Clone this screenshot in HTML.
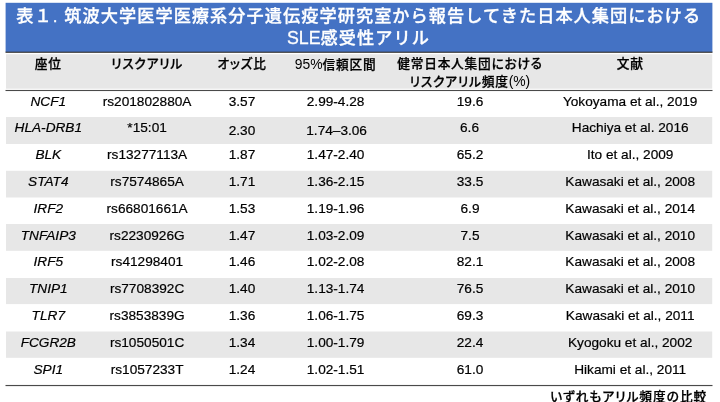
<!DOCTYPE html>
<html lang="ja"><head><meta charset="utf-8"><title>表1</title>
<style>
html,body{margin:0;padding:0;background:#fff;}
body{width:720px;height:402px;position:relative;overflow:hidden;font-family:"Liberation Sans","Noto Sans CJK JP",sans-serif;color:#000;}
.tt{position:absolute;color:#fff;font-weight:500;-webkit-text-stroke:0.3px #fff;font-size:17.2px;letter-spacing:1.04px;white-space:nowrap;line-height:22px;}
.t1{left:16.2px;top:5px;}
.t2{left:0;width:717px;text-align:center;top:27px;}
.t2 span{font-size:17.8px;letter-spacing:0}
.c{position:absolute;width:240px;margin-left:-120px;text-align:center;white-space:nowrap;font-size:13.65px;line-height:16px;-webkit-text-stroke:0.2px #000;}
.h{font-weight:500;-webkit-text-stroke:0.25px #000;font-size:12.7px;letter-spacing:0.78px;font-feature-settings:"palt";line-height:17px;}
.h b{font-weight:400;font-size:13.9px;-webkit-text-stroke:0;letter-spacing:0}
.i{font-style:italic;}
.note{position:absolute;right:12.8px;top:388.6px;font-weight:500;-webkit-text-stroke:0.25px #000;font-size:12.7px;letter-spacing:0.97px;line-height:17px;white-space:nowrap;font-feature-settings:"palt";}
</style></head><body>
<svg width="720" height="402" viewBox="0 0 720 402" style="position:absolute;left:0;top:0">
<rect x="5.6" y="2.8" width="706.8" height="49.2" fill="#4472C4"/>
<rect x="5.5" y="51.65" width="707" height="1.2" fill="#383838"/>
<rect x="6" y="54.25" width="706.2" height="34.45" fill="#E7E7E7"/>
<rect x="5.5" y="89.95" width="707" height="1.1" fill="#4a4a4a"/>
<rect x="6" y="117" width="706.2" height="27.00" fill="#E7E7E7"/>
<rect x="6" y="170.8" width="706.2" height="26.70" fill="#E7E7E7"/>
<rect x="6" y="224" width="706.2" height="26.80" fill="#E7E7E7"/>
<rect x="6" y="278" width="706.2" height="26.10" fill="#E7E7E7"/>
<rect x="6" y="331.5" width="706.2" height="26.30" fill="#E7E7E7"/>
<rect x="5.5" y="384.95" width="707" height="1.15" fill="#4a4a4a"/>
</svg>
<div class="tt t1">表１. 筑波大学医学医療系分子遺伝疫学研究室から報告してきた日本人集団における</div>
<div class="tt t2"><span>SLE</span>感受性アリル</div>

<div class="c h" style="left:48.3px;top:55.6px">座位</div>
<div class="c h" style="left:147.1px;top:55.6px">リスクアリル</div>
<div class="c h" style="left:242px;top:55.6px">オッズ比</div>
<div class="c h" style="left:335.6px;top:55.6px"><b>95%</b>信頼区間</div>
<div class="c h" style="left:470px;top:55.6px">健常日本人集団における<br>リスクアリル頻度<b>(%)</b></div>
<div class="c h" style="left:630.2px;top:55.6px">文献</div>
<div class="c i" style="left:48.3px;top:93.60px">NCF1</div>
<div class="c" style="left:147.1px;top:93.60px">rs201802880A</div>
<div class="c" style="left:242.0px;top:93.60px">3.57</div>
<div class="c" style="left:335.6px;top:93.60px">2.99-4.28</div>
<div class="c" style="left:470.0px;top:93.60px">19.6</div>
<div class="c" style="left:630.2px;top:93.60px">Yokoyama et al., 2019</div>
<div class="c i" style="left:48.3px;top:120.40px">HLA-DRB1</div>
<div class="c" style="left:147.1px;top:120.40px">*15:01</div>
<div class="c" style="left:242.0px;top:123.10px">2.30</div>
<div class="c" style="left:336.6px;top:123.10px">1.74–3.06</div>
<div class="c" style="left:469.5px;top:120.40px">6.6</div>
<div class="c" style="left:630.2px;top:120.40px">Hachiya et al. 2016</div>
<div class="c i" style="left:48.3px;top:147.20px">BLK</div>
<div class="c" style="left:147.1px;top:147.20px">rs13277113A</div>
<div class="c" style="left:242.0px;top:147.20px">1.87</div>
<div class="c" style="left:335.6px;top:147.20px">1.47-2.40</div>
<div class="c" style="left:470.0px;top:147.20px">65.2</div>
<div class="c" style="left:630.2px;top:147.20px">Ito et al., 2009</div>
<div class="c i" style="left:48.3px;top:174.00px">STAT4</div>
<div class="c" style="left:147.1px;top:174.00px">rs7574865A</div>
<div class="c" style="left:242.0px;top:174.00px">1.71</div>
<div class="c" style="left:335.6px;top:174.00px">1.36-2.15</div>
<div class="c" style="left:470.0px;top:174.00px">33.5</div>
<div class="c" style="left:630.2px;top:174.00px">Kawasaki et al., 2008</div>
<div class="c i" style="left:48.3px;top:200.80px">IRF2</div>
<div class="c" style="left:147.1px;top:200.80px">rs66801661A</div>
<div class="c" style="left:242.0px;top:200.80px">1.53</div>
<div class="c" style="left:335.6px;top:200.80px">1.19-1.96</div>
<div class="c" style="left:470.0px;top:200.80px">6.9</div>
<div class="c" style="left:630.2px;top:200.80px">Kawasaki et al., 2014</div>
<div class="c i" style="left:48.3px;top:227.60px">TNFAIP3</div>
<div class="c" style="left:147.1px;top:227.60px">rs2230926G</div>
<div class="c" style="left:242.0px;top:227.60px">1.47</div>
<div class="c" style="left:335.6px;top:227.60px">1.03-2.09</div>
<div class="c" style="left:470.0px;top:227.60px">7.5</div>
<div class="c" style="left:630.2px;top:227.60px">Kawasaki et al., 2010</div>
<div class="c i" style="left:48.3px;top:254.40px">IRF5</div>
<div class="c" style="left:147.1px;top:254.40px">rs41298401</div>
<div class="c" style="left:242.0px;top:254.40px">1.46</div>
<div class="c" style="left:335.6px;top:254.40px">1.02-2.08</div>
<div class="c" style="left:470.0px;top:254.40px">82.1</div>
<div class="c" style="left:630.2px;top:254.40px">Kawasaki et al., 2008</div>
<div class="c i" style="left:48.3px;top:281.20px">TNIP1</div>
<div class="c" style="left:147.1px;top:281.20px">rs7708392C</div>
<div class="c" style="left:242.0px;top:281.20px">1.40</div>
<div class="c" style="left:335.6px;top:281.20px">1.13-1.74</div>
<div class="c" style="left:470.0px;top:281.20px">76.5</div>
<div class="c" style="left:630.2px;top:281.20px">Kawasaki et al., 2010</div>
<div class="c i" style="left:48.3px;top:308.00px">TLR7</div>
<div class="c" style="left:147.1px;top:308.00px">rs3853839G</div>
<div class="c" style="left:242.0px;top:308.00px">1.36</div>
<div class="c" style="left:335.6px;top:308.00px">1.06-1.75</div>
<div class="c" style="left:470.0px;top:308.00px">69.3</div>
<div class="c" style="left:630.2px;top:308.00px">Kawasaki et al., 2011</div>
<div class="c i" style="left:48.3px;top:334.80px">FCGR2B</div>
<div class="c" style="left:147.1px;top:334.80px">rs1050501C</div>
<div class="c" style="left:242.0px;top:334.80px">1.34</div>
<div class="c" style="left:335.6px;top:334.80px">1.00-1.79</div>
<div class="c" style="left:470.0px;top:334.80px">22.4</div>
<div class="c" style="left:630.2px;top:334.80px">Kyogoku et al., 2002</div>
<div class="c i" style="left:48.3px;top:361.60px">SPI1</div>
<div class="c" style="left:147.1px;top:361.60px">rs1057233T</div>
<div class="c" style="left:242.0px;top:361.60px">1.24</div>
<div class="c" style="left:335.6px;top:361.60px">1.02-1.51</div>
<div class="c" style="left:470.0px;top:361.60px">61.0</div>
<div class="c" style="left:630.2px;top:361.60px">Hikami et al., 2011</div>
<div class="note">いずれもアリル頻度の比較</div>
</body></html>
